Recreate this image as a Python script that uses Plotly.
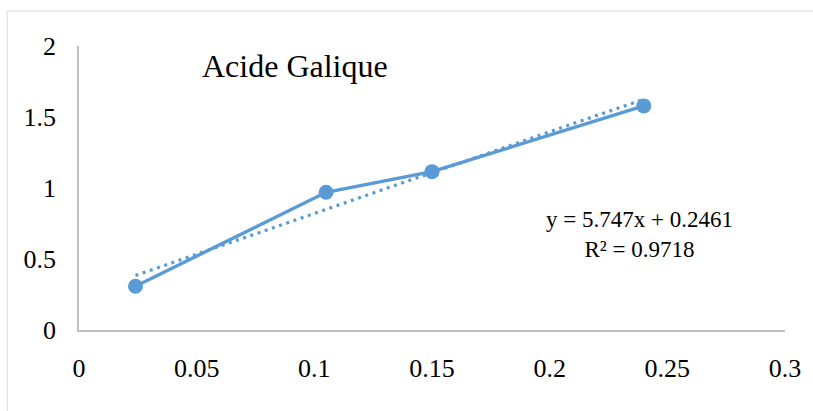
import plotly.graph_objects as go

# Calibration data: concentration vs absorbance
concentration = [0.024, 0.105, 0.15, 0.24]
absorbance = [0.308, 0.97, 1.115, 1.578]

# Linear fit reported on the chart
slope = 5.747
intercept = 0.2461
r_squared = 0.9718

x_ticks = [0, 0.05, 0.1, 0.15, 0.2, 0.25, 0.3]
y_ticks = [0, 0.5, 1, 1.5, 2]

blue = "#5B9BD5"
font_family = "Liberation Serif"

fit_x = [concentration[0], concentration[-1]]
fit_y = [slope * v + intercept for v in fit_x]

fig = go.Figure()
fig.add_trace(go.Scatter(
    x=fit_x, y=fit_y, mode="lines",
    line=dict(color=blue, width=3.2, dash="3px,4.6px"),
    hoverinfo="skip", showlegend=False,
))
fig.add_trace(go.Scatter(
    x=concentration, y=absorbance, mode="lines+markers",
    line=dict(color=blue, width=3.4),
    marker=dict(color=blue, size=15),
    showlegend=False,
))

W, H = 813, 411
ml, mr, mt, mb = 79, 26, 46, 81
pw, ph = W - ml - mr, H - mt - mb

def px_x(p):
    return (p - ml) / pw

def px_y(p):
    return (H - mb - p) / ph

fig.update_layout(
    width=W, height=H,
    margin=dict(l=ml, r=mr, t=mt, b=mb),
    paper_bgcolor="white", plot_bgcolor="white",
    font=dict(family=font_family, size=23, color="#000000"),
    xaxis=dict(
        range=[0, 0.3], tickvals=x_ticks, ticktext=[str(v) for v in x_ticks],
        showgrid=False, zeroline=False, showline=True, linecolor="#BFBFBF",
        linewidth=1.5, ticks="", ticklabelstandoff=14,
        tickfont_size=26, tickfont_family=font_family, tickfont_color="#000000",
    ),
    yaxis=dict(
        range=[0, 2], tickvals=y_ticks, ticktext=[str(v) for v in y_ticks],
        showgrid=False, zeroline=False, showline=True, linecolor="#BFBFBF",
        linewidth=1.5, ticks="", ticklabelstandoff=16,
        tickfont_size=26, tickfont_family=font_family, tickfont_color="#000000",
    ),
    shapes=[dict(
        type="rect", xref="paper", yref="paper",
        x0=px_x(7), x1=px_x(W + 20), y0=px_y(H + 20), y1=px_y(11),
        line=dict(color="#D9D9D9", width=1), fillcolor="rgba(0,0,0,0)",
        layer="below",
    )],
    annotations=[
        dict(
            text="Acide Galique", xref="paper", yref="paper",
            x=px_x(296), y=px_y(66), xanchor="center", yanchor="middle",
            showarrow=False, font=dict(family=font_family, size=32, color="#000000"),
        ),
        dict(
            text=f"y = {slope}x + {intercept}<br>R² = {r_squared}",
            xref="paper", yref="paper", x=px_x(641), y=px_y(234),
            xanchor="center", yanchor="middle", align="center",
            showarrow=False, font=dict(family=font_family, size=23, color="#000000"),
        ),
    ],
)

fig.write_html("out.html")
